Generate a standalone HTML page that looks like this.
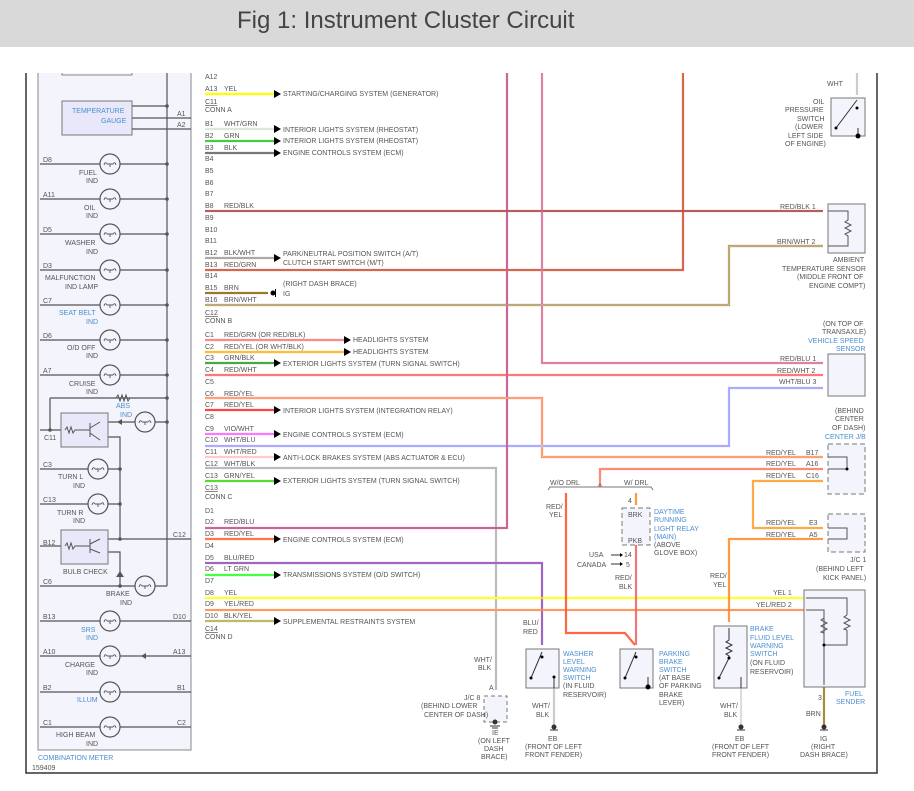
<!DOCTYPE html>
<html><head><meta charset="utf-8"><style>
html,body{margin:0;padding:0;background:#fff;width:914px;height:791px;overflow:hidden}
svg{display:block}
text{font-family:"Liberation Sans",sans-serif;font-size:7px;fill:#555}
.b{fill:#4a8fd0}
.h{font-size:24px;fill:#444}
</style></head><body>
<svg width="914" height="791" viewBox="0 0 914 791" xmlns="http://www.w3.org/2000/svg">
<defs>
<g id="lamp"><circle r="10" fill="#f4f4fc" stroke="#555" stroke-width="1.2"/><path d="M-6,1 q1,-4 3,-1 M6,1 q-1,-4 -3,-1 M-3,0 h6 M0,0 v3" fill="none" stroke="#555" stroke-width="0.9"/></g>
</defs>
<rect x="0" y="0" width="914" height="47" fill="#d9d9d9"/>
<text x="237" y="28" class="h">Fig 1: Instrument Cluster Circuit</text>
<path d="M26,73 V773 H877 V73" fill="none" stroke="#333" stroke-width="1.5"/>
<rect x="38" y="60" width="153" height="690" fill="#f4f4fc" stroke="#888" stroke-width="1"/>
<rect x="0" y="47" width="914" height="26" fill="#fff"/>
<rect x="62" y="60" width="70" height="13" fill="#fff"/>
<path d="M62,73 V75 H132 V73" fill="none" stroke="#888"/>
<line x1="167" y1="73" x2="167" y2="586" stroke="#555" stroke-width="1.2"/>
<rect x="62" y="101" width="70" height="34" fill="#e8e8fa" stroke="#777"/>
<text x="72" y="113" class="b">TEMPERATURE</text><text x="101" y="123" class="b">GAUGE</text>
<g stroke="#555" stroke-width="1.2" fill="none">
<path d="M132,106H167M132,118H191M132,129H191"/>
<path d="M40,164H167M40,199H167M40,234H167M40,270H167M40,305H167M40,340H167M40,375H167"/>
<path d="M50,398H167M50,398V430M40,430H61M108,422H167M108,437H120V539M40,469H120M40,504H120M108,539H191M40,546H61M108,552H120V586M40,586H167"/>
<path d="M40,621H191M40,656H191M40,692H191M40,727H191"/>
</g>
<g fill="#555">
<circle cx="167" cy="106" r="1.8"/><circle cx="167" cy="164" r="1.8"/><circle cx="167" cy="199" r="1.8"/><circle cx="167" cy="234" r="1.8"/><circle cx="167" cy="270" r="1.8"/><circle cx="167" cy="305" r="1.8"/><circle cx="167" cy="340" r="1.8"/><circle cx="167" cy="375" r="1.8"/><circle cx="167" cy="398" r="1.8"/><circle cx="167" cy="422" r="1.8"/><circle cx="50" cy="430" r="1.8"/><circle cx="120" cy="469" r="1.8"/><circle cx="120" cy="504" r="1.8"/><circle cx="120" cy="539" r="1.8"/><circle cx="120" cy="586" r="1.8"/>
<path d="M116,398 l2,-3 2,6 2,-6 2,6 2,-6 2,6 2,-3" fill="none" stroke="#555"/>
<path d="M117,422 l5,-3 v6z M117,419v6"/>
<path d="M116,577 l4,-6 4,6z M116,570h8"/>
<path d="M141,656 l5,-3 v6z M146,653v6"/>
</g>
<use href="#lamp" x="110" y="164"/><use href="#lamp" x="110" y="199"/><use href="#lamp" x="110" y="234"/><use href="#lamp" x="110" y="270"/><use href="#lamp" x="110" y="305"/><use href="#lamp" x="110" y="340"/><use href="#lamp" x="110" y="375"/>
<use href="#lamp" x="145" y="422"/><use href="#lamp" x="98" y="469"/><use href="#lamp" x="98" y="504"/><use href="#lamp" x="145" y="586"/>
<use href="#lamp" x="110" y="621"/><use href="#lamp" x="110" y="656"/><use href="#lamp" x="110" y="692"/><use href="#lamp" x="110" y="727"/>
<rect x="61" y="413" width="47" height="34" fill="#e8e8fa" stroke="#777"/>
<rect x="61" y="530" width="47" height="34" fill="#e8e8fa" stroke="#777"/>
<g stroke="#555" fill="none"><path d="M65,430 l2,-3 2,6 2,-6 2,6 2,-3 H90 M90,423V437 M90,428 L100,422 M90,433L100,440"/>
<path d="M65,546 l2,-3 2,6 2,-6 2,6 2,-3 H90 M90,539V553 M90,544 L100,539 M90,549L100,553"/></g>
<g>
<text x="43" y="162">D8</text><text x="79" y="175">FUEL</text><text x="86" y="183">IND</text>
<text x="43" y="197">A11</text><text x="84" y="210">OIL</text><text x="86" y="218">IND</text>
<text x="43" y="232">D5</text><text x="65" y="245">WASHER</text><text x="86" y="254">IND</text>
<text x="43" y="268">D3</text><text x="45" y="280">MALFUNCTION</text><text x="65" y="289">IND LAMP</text>
<text x="43" y="303">C7</text><text class="b" x="59" y="315">SEAT BELT</text><text class="b" x="86" y="324">IND</text>
<text x="43" y="338">D6</text><text x="67" y="350">O/D OFF</text><text x="86" y="358">IND</text>
<text x="43" y="373">A7</text><text x="69" y="386">CRUISE</text><text x="86" y="394">IND</text>
<text class="b" x="116" y="408">ABS</text><text class="b" x="120" y="417">IND</text>
<text x="44" y="440">C11</text>
<text x="43" y="467">C3</text><text x="58" y="479">TURN L</text><text x="73" y="488">IND</text>
<text x="43" y="502">C13</text><text x="57" y="515">TURN R</text><text x="73" y="523">IND</text>
<text x="43" y="545">B12</text><text x="173" y="537">C12</text>
<text x="63" y="574">BULB CHECK</text>
<text x="43" y="584">C6</text><text x="106" y="596">BRAKE</text><text x="120" y="605">IND</text>
<text x="43" y="619">B13</text><text x="173" y="619">D10</text><text class="b" x="81" y="632">SRS</text><text class="b" x="86" y="640">IND</text>
<text x="43" y="654">A10</text><text x="173" y="654">A13</text><text x="65" y="667">CHARGE</text><text x="86" y="675">IND</text>
<text x="43" y="690">B2</text><text x="177" y="690">B1</text><text class="b" x="77" y="702">ILLUM</text>
<text x="43" y="725">C1</text><text x="177" y="725">C2</text><text x="56" y="737">HIGH BEAM</text><text x="86" y="746">IND</text>
<text x="177" y="116">A1</text><text x="177" y="127">A2</text>
<text class="b" x="38" y="760">COMBINATION METER</text><text x="32" y="770">159409</text>
</g>
<g>
<text x="205" y="79">A12</text><text x="205" y="91">A13</text><text x="224" y="91">YEL</text><text x="205" y="104" text-decoration="underline">C11</text><text x="205" y="112">CONN A</text>
<text x="205" y="126">B1</text><text x="224" y="126">WHT/GRN</text><text x="205" y="138">B2</text><text x="224" y="138">GRN</text><text x="205" y="150">B3</text><text x="224" y="150">BLK</text>
<text x="205" y="161">B4</text><text x="205" y="173">B5</text><text x="205" y="185">B6</text><text x="205" y="196">B7</text><text x="205" y="208">B8</text><text x="224" y="208">RED/BLK</text>
<text x="205" y="220">B9</text><text x="205" y="232">B10</text><text x="205" y="243">B11</text><text x="205" y="255">B12</text><text x="224" y="255">BLK/WHT</text>
<text x="205" y="267">B13</text><text x="224" y="267">RED/GRN</text><text x="205" y="278">B14</text><text x="205" y="290">B15</text><text x="224" y="290">BRN</text>
<text x="205" y="302">B16</text><text x="224" y="302">BRN/WHT</text><text x="205" y="315" text-decoration="underline">C12</text><text x="205" y="323">CONN B</text>
<text x="205" y="337">C1</text><text x="224" y="337">RED/GRN (OR RED/BLK)</text><text x="205" y="349">C2</text><text x="224" y="349">RED/YEL (OR WHT/BLK)</text>
<text x="205" y="360">C3</text><text x="224" y="360">GRN/BLK</text><text x="205" y="372">C4</text><text x="224" y="372">RED/WHT</text><text x="205" y="384">C5</text>
<text x="205" y="396">C6</text><text x="224" y="396">RED/YEL</text><text x="205" y="407">C7</text><text x="224" y="407">RED/YEL</text><text x="205" y="419">C8</text>
<text x="205" y="431">C9</text><text x="224" y="431">VIO/WHT</text><text x="205" y="442">C10</text><text x="224" y="442">WHT/BLU</text>
<text x="205" y="454">C11</text><text x="224" y="454">WHT/RED</text><text x="205" y="466">C12</text><text x="224" y="466">WHT/BLK</text>
<text x="205" y="478">C13</text><text x="224" y="478">GRN/YEL</text><text x="205" y="490" text-decoration="underline">C13</text><text x="205" y="499">CONN C</text>
<text x="205" y="513">D1</text><text x="205" y="524">D2</text><text x="224" y="524">RED/BLU</text><text x="205" y="536">D3</text><text x="224" y="536">RED/YEL</text>
<text x="205" y="548">D4</text><text x="205" y="560">D5</text><text x="224" y="560">BLU/RED</text><text x="205" y="571">D6</text><text x="224" y="571">LT GRN</text><text x="205" y="583">D7</text>
<text x="205" y="595">D8</text><text x="224" y="595">YEL</text><text x="205" y="606">D9</text><text x="224" y="606">YEL/RED</text><text x="205" y="618">D10</text><text x="224" y="618">BLK/YEL</text>
<text x="205" y="631" text-decoration="underline">C14</text><text x="205" y="639">CONN D</text>
</g>
<g>
<text x="283" y="96">STARTING/CHARGING SYSTEM (GENERATOR)</text>
<text x="283" y="132">INTERIOR LIGHTS SYSTEM (RHEOSTAT)</text><text x="283" y="143">INTERIOR LIGHTS SYSTEM (RHEOSTAT)</text>
<text x="283" y="155">ENGINE CONTROLS SYSTEM (ECM)</text>
<text x="283" y="256">PARK/NEUTRAL POSITION SWITCH (A/T)</text><text x="283" y="265">CLUTCH START SWITCH (M/T)</text>
<text x="283" y="286">(RIGHT DASH BRACE)</text><text x="283" y="296">IG</text>
<text x="353" y="342">HEADLIGHTS SYSTEM</text><text x="353" y="354">HEADLIGHTS SYSTEM</text>
<text x="283" y="366">EXTERIOR LIGHTS SYSTEM (TURN SIGNAL SWITCH)</text>
<text x="283" y="413">INTERIOR LIGHTS SYSTEM (INTEGRATION RELAY)</text>
<text x="283" y="437">ENGINE CONTROLS SYSTEM (ECM)</text>
<text x="283" y="460">ANTI-LOCK BRAKES SYSTEM (ABS ACTUATOR &amp; ECU)</text>
<text x="283" y="483">EXTERIOR LIGHTS SYSTEM (TURN SIGNAL SWITCH)</text>
<text x="283" y="542">ENGINE CONTROLS SYSTEM (ECM)</text>
<text x="283" y="577">TRANSMISSIONS SYSTEM (O/D SWITCH)</text>
<text x="283" y="624">SUPPLEMENTAL RESTRAINTS SYSTEM</text>
</g>
<g fill="none" stroke-width="2.2">
<path d="M205,94H275" stroke="#ff0"/>
<path d="M205,129H275" stroke="#dde8d8"/>
<path d="M205,141H275" stroke="#4c4"/>
<path d="M205,153H275" stroke="#777"/>
<path d="M205,211H823" stroke="#f77"/>
<path d="M205,258H275" stroke="#aaa"/>
<path d="M205,270H683V73" stroke="#f55"/>
<path d="M205,293H268" stroke="#9a7a2a"/>
<path d="M205,305H729V246H823" stroke="#a88a3a"/>
<path d="M205,340H344" stroke="#f88"/>
<path d="M205,352H344" stroke="#f94"/>
<path d="M205,363H275" stroke="#4a4"/>
<path d="M205,375H823" stroke="#f77"/>
<path d="M205,398H542V457H823" stroke="#f66"/>
<path d="M205,410H275" stroke="#f44"/>
<path d="M205,434H275" stroke="#f7f"/>
<path d="M205,446H729V388H823" stroke="#aaf"/>
<path d="M205,457H275" stroke="#fcc"/>
<path d="M205,468H496V690" stroke="#bbb"/>
<path d="M205,481H275" stroke="#5d3"/>
<path d="M205,528H507V73" stroke="#f66"/>
<path d="M205,539H275" stroke="#f74"/>
<path d="M205,563H542V645" stroke="#77f"/>
<path d="M205,575H275" stroke="#4f4"/>
<path d="M205,598H805" stroke="#ff3"/>
<path d="M205,610H805" stroke="#fc7"/>
<path d="M205,621H275" stroke="#bb6"/>
<path d="M542,73V363H823" stroke="#f77"/>
<path d="M823,469H600V488" stroke="#f87"/>
<path d="M823,481H753V528H823" stroke="#fa4"/>
<path d="M823,539H729V622" stroke="#f94"/>
<path d="M566,493V633H625L635,645" stroke="#f64"/>
<path d="M636,493V505" stroke="#f94"/>
<path d="M636,545V645" stroke="#e77"/>
<path d="M554,688V725" stroke="#ccc"/>
<path d="M741,688V725" stroke="#ddd"/>
<path d="M824,687V725" stroke="#a88a3a"/>
<path d="M857,73V95" stroke="#ccc"/>
</g>
<g fill="none" stroke-width="0.7">
<path d="M205,211H823" stroke="#333"/><path d="M205,270H683V73" stroke="#884"/><path d="M205,305H729V246H823" stroke="#ddd"/>
<path d="M205,528H507V73" stroke="#66f"/><path d="M542,73V363H823" stroke="#99f"/><path d="M205,563H542V645" stroke="#e44"/>
<path d="M205,610H805" stroke="#f44"/><path d="M205,352H344" stroke="#ff0"/><path d="M205,398H542V457H823" stroke="#ff8"/>
</g>
<g fill="#000">
<path d="M274,90l7,4-7,4z"/><path d="M274,125l7,4-7,4z"/><path d="M274,137l7,4-7,4z"/><path d="M274,149l7,4-7,4z"/><path d="M274,254l7,4-7,4z"/>
<path d="M344,336l7,4-7,4z"/><path d="M344,348l7,4-7,4z"/><path d="M274,359l7,4-7,4z"/><path d="M274,406l7,4-7,4z"/><path d="M274,430l7,4-7,4z"/>
<path d="M274,453l7,4-7,4z"/><path d="M274,477l7,4-7,4z"/><path d="M274,535l7,4-7,4z"/><path d="M274,571l7,4-7,4z"/><path d="M274,617l7,4-7,4z"/>
<circle cx="273" cy="293" r="2.5"/><rect x="275" y="289" width="1" height="8"/>
</g>
<g>
<text x="827" y="86">WHT</text>
<rect x="831" y="98" width="34" height="38" fill="#f4f4fc" stroke="#777"/>
<path d="M857,100L836,128M858,128V136" stroke="#333" fill="none"/><circle cx="857" cy="108" r="1.5"/><circle cx="836" cy="128" r="1.5"/><circle cx="858" cy="136" r="2.5"/>
<text x="813" y="104">OIL</text><text x="785" y="112">PRESSURE</text><text x="797" y="121">SWITCH</text><text x="795" y="129">(LOWER</text><text x="788" y="138">LEFT SIDE</text><text x="785" y="146">OF ENGINE)</text>
<text x="780" y="209">RED/BLK 1</text><text x="777" y="244">BRN/WHT 2</text>
<rect x="828" y="204" width="37" height="49" fill="#f4f4fc" stroke="#777"/>
<path d="M828,211H848V220l-3,2 6,3-6,3 6,3-6,3 3,2V246H828" fill="none" stroke="#555"/>
<text x="833" y="262">AMBIENT</text><text x="782" y="271">TEMPERATURE SENSOR</text><text x="797" y="279">(MIDDLE FRONT OF</text><text x="809" y="288">ENGINE COMPT)</text>
<text x="823" y="326">(ON TOP OF</text><text x="822" y="334">TRANSAXLE)</text><text class="b" x="808" y="343">VEHICLE SPEED</text><text class="b" x="836" y="351">SENSOR</text>
<text x="780" y="361">RED/BLU 1</text><text x="777" y="373">RED/WHT 2</text><text x="779" y="384">WHT/BLU 3</text>
<rect x="828" y="354" width="37" height="42" fill="#f4f4fc" stroke="#777"/>
<text x="835" y="413">(BEHIND</text><text x="835" y="421">CENTER</text><text x="832" y="430">OF DASH)</text><text class="b" x="825" y="439">CENTER J/B</text>
<text x="766" y="455">RED/YEL</text><text x="806" y="455">B17</text><text x="766" y="466">RED/YEL</text><text x="806" y="466">A16</text><text x="766" y="478">RED/YEL</text><text x="806" y="478">C16</text>
<rect x="828" y="444" width="37" height="50" fill="#f4f4fc" stroke="#777" stroke-dasharray="5,3"/>
<path d="M828,457H847V469M828,469H847" stroke="#555" fill="none"/><circle cx="847" cy="469" r="1.5"/>
<text x="766" y="525">RED/YEL</text><text x="809" y="525">E3</text><text x="766" y="537">RED/YEL</text><text x="809" y="537">A5</text>
<rect x="828" y="514" width="37" height="38" fill="#f4f4fc" stroke="#777" stroke-dasharray="5,3"/>
<path d="M828,528H847V539H828" stroke="#555" fill="none"/>
<text x="850" y="562">J/C 1</text><text x="816" y="571">(BEHIND LEFT</text><text x="823" y="580">KICK PANEL)</text>
<text x="773" y="595">YEL 1</text><text x="756" y="607">YEL/RED 2</text>
<rect x="804" y="590" width="61" height="97" fill="#f4f4fc" stroke="#777"/>
<path d="M806,598H847V615M806,610H824V645H847V630M824,610V685" stroke="#555" fill="none"/>
<path d="M847,615l-3,2 6,3-6,3 6,3-6,3 3,1M824,618l-3,2 6,3-6,3 6,3-6,3 3,1" stroke="#555" fill="none"/><circle cx="824" cy="645" r="1.5"/>
<text class="b" x="845" y="696">FUEL</text><text class="b" x="836" y="704">SENDER</text><text x="818" y="700">3</text><text x="806" y="716">BRN</text>
<text x="550" y="485">W/O DRL</text><text x="624" y="485">W/ DRL</text>
<path d="M548,490l2,-3H598l2,-3 2,3H651l2,3" stroke="#777" fill="none"/>
<text x="546" y="509">RED/</text><text x="549" y="517">YEL</text>
<text x="628" y="503">4</text>
<rect x="622" y="508" width="28" height="37" fill="#f4f4fc" stroke="#777" stroke-dasharray="5,3"/>
<text x="628" y="517">BRK</text><text x="628" y="543">PKB</text>
<text class="b" x="654" y="514">DAYTIME</text><text class="b" x="654" y="522">RUNNING</text><text class="b" x="654" y="531">LIGHT RELAY</text><text class="b" x="654" y="539">(MAIN)</text><text x="654" y="547">(ABOVE</text><text x="654" y="555">GLOVE BOX)</text>
<text x="589" y="557">USA</text><text x="577" y="567">CANADA</text><text x="624" y="557">14</text><text x="626" y="567">5</text>
<path d="M611,555h9M611,564h9" stroke="#333"/><path d="M620,553l3,2-3,2zM620,562l3,2-3,2z"/>
<text x="615" y="580">RED/</text><text x="619" y="589">BLK</text>
<text x="523" y="625">BLU/</text><text x="523" y="634">RED</text>
<text x="710" y="578">RED/</text><text x="713" y="587">YEL</text>
<rect x="526" y="649" width="33" height="39" fill="#f4f4fc" stroke="#777"/>
<path d="M542,652L531,678M554,677V688" stroke="#333" fill="none"/><circle cx="542" cy="657" r="1.5"/><circle cx="531" cy="678" r="1.5"/><circle cx="554" cy="677" r="1.5"/>
<text class="b" x="563" y="656">WASHER</text><text class="b" x="563" y="664">LEVEL</text><text class="b" x="563" y="672">WARNING</text><text class="b" x="563" y="680">SWITCH</text><text x="563" y="688">(IN FLUID</text><text x="563" y="697">RESERVOIR)</text>
<rect x="620" y="649" width="33" height="39" fill="#f4f4fc" stroke="#777"/>
<path d="M636,652L625,678M648,677V688" stroke="#333" fill="none"/><circle cx="636" cy="657" r="1.5"/><circle cx="625" cy="678" r="1.5"/><circle cx="648" cy="687" r="2.5"/>
<text class="b" x="659" y="656">PARKING</text><text class="b" x="659" y="664">BRAKE</text><text class="b" x="659" y="672">SWITCH</text><text x="659" y="680">(AT BASE</text><text x="659" y="688">OF PARKING</text><text x="659" y="697">BRAKE</text><text x="659" y="705">LEVER)</text>
<rect x="714" y="626" width="33" height="62" fill="#f4f4fc" stroke="#777"/>
<path d="M729,628V640l-3,2 6,3-6,3 6,3-6,3 3,2V658L719,678M741,677V688" stroke="#333" fill="none"/><circle cx="729" cy="658" r="1.5"/><circle cx="719" cy="678" r="1.5"/>
<text class="b" x="750" y="631">BRAKE</text><text class="b" x="750" y="640">FLUID LEVEL</text><text class="b" x="750" y="648">WARNING</text><text class="b" x="750" y="656">SWITCH</text><text x="750" y="665">(ON FLUID</text><text x="750" y="674">RESERVOIR)</text>
<text x="474" y="662">WHT/</text><text x="478" y="670">BLK</text><text x="489" y="690">A</text>
<rect x="484" y="696" width="23" height="26" fill="#f4f4fc" stroke="#777" stroke-dasharray="4,3"/>
<text x="464" y="700">J/C 8</text><text x="421" y="708">(BEHIND LOWER</text><text x="424" y="717">CENTER OF DASH)</text>
<text x="532" y="708">WHT/</text><text x="536" y="717">BLK</text><text x="720" y="708">WHT/</text><text x="724" y="717">BLK</text>
<g fill="#333"><circle cx="495" cy="722" r="2.5"/><circle cx="554" cy="727" r="2.5"/><circle cx="741" cy="727" r="2.5"/><circle cx="824" cy="727" r="2.5"/></g>
<path d="M490,726h10M492,728h6M550,730h8M737,730h8M820,730h8" stroke="#333"/>
<text x="492" y="735">IE</text><text x="478" y="743">(ON LEFT</text><text x="484" y="751">DASH</text><text x="481" y="759">BRACE)</text>
<text x="548" y="741">EB</text><text x="525" y="749">(FRONT OF LEFT</text><text x="525" y="757">FRONT FENDER)</text>
<text x="735" y="741">EB</text><text x="712" y="749">(FRONT OF LEFT</text><text x="712" y="757">FRONT FENDER)</text>
<text x="820" y="741">IG</text><text x="811" y="749">(RIGHT</text><text x="800" y="757">DASH BRACE)</text>
</g>
</svg>
</body></html>
